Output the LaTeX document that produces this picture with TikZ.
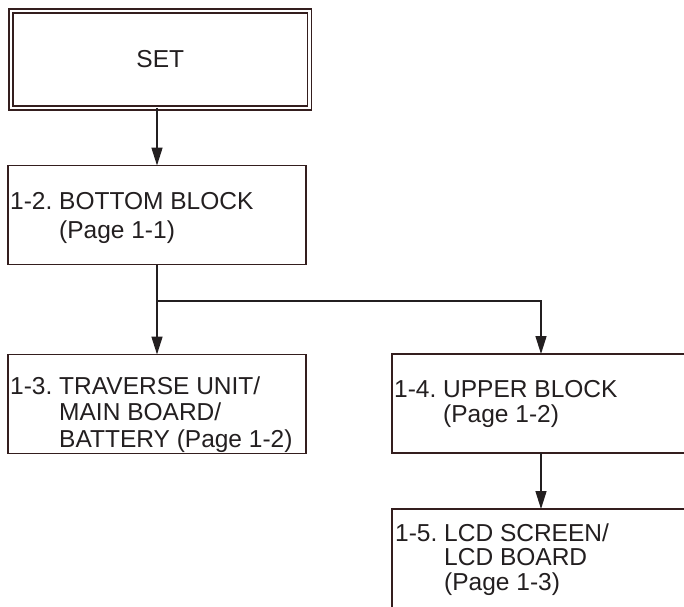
\documentclass[tikz,border=0pt]{standalone}
\usepackage{fontspec}
\setmainfont{Liberation Sans}
\usetikzlibrary{arrows.meta}
\definecolor{ink}{RGB}{35,31,32}
\definecolor{edge}{RGB}{52,30,30}
\frenchspacing
\tikzset{
  box/.style={draw=edge, line width=1.2pt, rectangle, minimum width=298pt, minimum height=99pt, inner sep=0pt, outer sep=0pt},
  setbox/.style={draw=edge, line width=1.4pt, double=white, double distance=2.6pt, rectangle, minimum width=298.5pt, minimum height=97pt, inner sep=0pt, outer sep=0pt, text=ink, font=\fontsize{24.5}{27}\selectfont},
  label/.style={anchor=north west, inner sep=0pt, align=left, text=ink},
  conn/.style={draw=ink, line width=1.5pt, -{Triangle[length=18pt,width=11pt]}},
  plain/.style={draw=ink, line width=1.5pt}
}
\begin{document}
\begin{tikzpicture}[x=1pt,y=-1pt]
\useasboundingbox (0,0) rectangle (684,606);
\fill[white] (0,0) rectangle (684,606);
% boxes
\node[setbox] (set) at (160.25,59.5) {SET};
\node[box] (b12) at (157,215) {};
\node[box] (b13) at (157,404) {};
\node[box] (b14) at (541,403.5) {};
\node[box, minimum height=110pt] (b15) at (541,564) {};
% texts
\node[label, font=\fontsize{24.5}{29}\selectfont] (t12) at (10,192.2) {1-2. BOTTOM BLOCK\\\hphantom{1-2. }(Page 1-1)};
\node[label, font=\fontsize{24.5}{26.5}\selectfont] (t13) at (10,376.2) {1-3. TRAVERSE UNIT/\\\hphantom{1-3. }MAIN BOARD/\\\hphantom{1-3. }BATTERY (Page 1-2)};
\node[label, font=\fontsize{24.5}{25.5}\selectfont] (t14) at (394,379.7) {1-4. UPPER BLOCK\\\hphantom{1-4. }(Page 1-2)};
\node[label, font=\fontsize{24.5}{24.5}\selectfont] (t15) at (395,523.2) {1-5. LCD SCREEN/\\\hphantom{1-5. }LCD BOARD\\\hphantom{1-5. }(Page 1-3)};
% connectors
\coordinate (j) at (157,301);
\draw[conn] (set.south -| b12.north) -- (b12.north);
\draw[plain] (b12.south) -- (j);
\draw[conn] (j) -- (b13.north);
\draw[conn] (j) -| (b14.north);
\draw[conn] (b14.south) -- (b15.north);
\end{tikzpicture}
\end{document}
